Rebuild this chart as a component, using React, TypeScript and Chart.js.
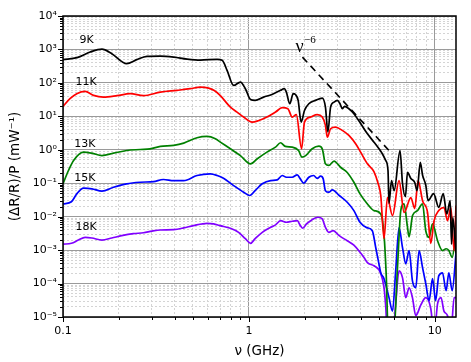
import { useEffect, useRef } from 'react';
import { Chart, registerables } from 'chart.js';

Chart.register(...registerables);

// ---------- data (frequency in GHz, (ΔR/R)/P in mW^-1) ----------
const k9Freq = [0.1, 0.119, 0.14, 0.162, 0.183, 0.22, 0.249, 0.283, 0.334, 0.394, 0.465, 0.548, 0.675, 0.718, 0.763, 0.828, 0.9, 0.957, 1.02, 1.08, 1.2, 1.33, 1.48, 1.55, 1.59, 1.66, 1.73, 1.78, 1.84, 1.91, 1.99, 2.1, 2.28, 2.48, 2.58, 2.66, 2.75, 2.87, 2.99, 3.09, 3.18, 3.27, 3.45, 3.67, 4.0, 4.34, 4.71, 5.01, 5.22, 5.44, 5.6, 5.67, 5.85, 6.04, 6.5, 6.7, 6.95, 7.13, 7.42, 7.8, 8.03, 8.35, 8.6, 8.95, 9.2, 9.85, 10.5, 11.1, 11.6, 12.1, 12.3, 12.5, 13.0];
const k9Val = [495, 567, 836, 1027, 748, 376, 495, 621, 634, 592, 516, 482, 506, 472, 237, 84, 106, 67, 32, 30, 37.6, 45, 60, 67, 53, 23.8, 47.5, 45, 30, 6.7, 15, 23.8, 30, 35, 18.8, 3.4, 18.8, 26.6, 30, 23.8, 16.9, 19.8, 16.9, 12, 6.0, 3.0, 1.69, 1.07, 0.76, 0.48, 0.24, 0.025, 0.12, 0.06, 0.95, 0.1, 0.04, 0.21, 0.14, 0.105, 0.06, 0.42, 0.17, 0.085, 0.03, 0.049, 0.019, 0.049, 0.012, 0.03, 0.0015, 0.0093, 0.00078];

const k11Freq = [0.1, 0.109, 0.1186, 0.1315, 0.146, 0.165, 0.195, 0.23, 0.271, 0.334, 0.41, 0.484, 0.548, 0.607, 0.648, 0.7, 0.795, 0.863, 0.937, 1.04, 1.13, 1.25, 1.39, 1.51, 1.62, 1.71, 1.8, 1.92, 1.99, 2.14, 2.33, 2.48, 2.58, 2.64, 2.75, 2.92, 3.18, 3.45, 3.75, 3.99, 4.34, 4.71, 4.95, 5.12, 5.33, 5.56, 5.92, 6.42, 6.84, 7.43, 7.8, 8.13, 8.59, 9.14, 9.51, 9.91, 10.5, 11.2, 11.7, 12.2, 12.7, 13.0];
const k11Val = [19.8, 33.6, 47.5, 55.7, 42.3, 37.6, 41.4, 47.5, 41.4, 53, 60, 67, 75, 70, 60, 42.3, 18.8, 13.4, 9.5, 6.7, 7.5, 9.5, 13.4, 18.1, 16.9, 9.5, 11.2, 1.07, 6.7, 9.5, 11.2, 9.5, 5.35, 2.38, 4.25, 4.75, 3.8, 2.68, 1.51, 0.85, 0.38, 0.22, 0.1, 0.043, 0.0022, 0.037, 0.0108, 0.12, 0.0133, 0.037, 0.0175, 0.12, 0.03, 0.0133, 0.0016, 0.0076, 0.0152, 0.0188, 0.0076, 0.0188, 0.00097, 0.0215];

const k13Freq = [0.1, 0.107, 0.114, 0.129, 0.143, 0.162, 0.187, 0.22, 0.26, 0.294, 0.334, 0.394, 0.446, 0.526, 0.596, 0.66, 0.702, 0.795, 0.9, 1.02, 1.11, 1.25, 1.39, 1.48, 1.57, 1.71, 1.85, 1.93, 2.02, 2.19, 2.38, 2.48, 2.58, 2.69, 2.87, 3.11, 3.38, 3.67, 3.96, 4.34, 4.71, 5.12, 5.33, 5.48, 5.62, 6.01, 6.3, 6.56, 6.83, 7.11, 7.27, 7.59, 8.07, 8.59, 8.94, 9.32, 9.72, 10.35, 11.0, 11.5, 11.9, 12.4, 13.0];
const k13Val = [0.096, 0.24, 0.48, 0.85, 0.79, 0.67, 0.79, 0.95, 1.02, 1.07, 1.26, 1.35, 1.58, 2.29, 2.5, 2.13, 1.69, 1.07, 0.67, 0.38, 0.54, 0.85, 1.2, 1.62, 1.26, 1.2, 0.95, 0.6, 0.67, 1.07, 1.28, 1.07, 0.38, 0.34, 0.46, 0.3, 0.21, 0.107, 0.048, 0.024, 0.0152, 0.0121, 0.0029, 0.00017, 0.000003, 0.000003, 0.00031, 0.0152, 0.024, 0.0054, 0.0025, 0.0108, 0.0152, 0.024, 0.0038, 0.0024, 0.0061, 0.0019, 0.00097, 0.0011, 0.00097, 0.00061, 0.0038];

const k15Freq = [0.1, 0.111, 0.1186, 0.129, 0.143, 0.162, 0.187, 0.22, 0.26, 0.307, 0.347, 0.394, 0.446, 0.526, 0.62, 0.675, 0.73, 0.828, 0.937, 1.01, 1.08, 1.18, 1.31, 1.42, 1.51, 1.59, 1.71, 1.82, 1.89, 1.97, 2.1, 2.23, 2.33, 2.43, 2.51, 2.58, 2.69, 2.81, 3.06, 3.38, 3.67, 3.96, 4.3, 4.61, 4.81, 4.99, 5.12, 5.33, 5.67, 5.92, 6.16, 6.42, 6.7, 6.98, 7.27, 7.58, 7.9, 8.23, 8.59, 8.94, 9.32, 9.72, 10.1, 10.5, 11.0, 11.5, 11.9, 12.4, 13.0];
const k15Val = [0.024, 0.028, 0.048, 0.071, 0.068, 0.058, 0.076, 0.096, 0.107, 0.112, 0.129, 0.12, 0.12, 0.17, 0.19, 0.17, 0.14, 0.085, 0.054, 0.043, 0.06, 0.096, 0.12, 0.126, 0.17, 0.151, 0.151, 0.178, 0.135, 0.1, 0.151, 0.17, 0.14, 0.162, 0.135, 0.06, 0.054, 0.063, 0.043, 0.027, 0.0152, 0.0068, 0.0047, 0.0038, 0.0012, 0.00042, 0.00021, 0.00014, 0.000038, 0.000015, 0.00024, 0.0047, 0.0012, 0.00039, 0.00097, 0.00012, 0.000075, 0.00097, 0.0003, 0.000099, 0.000031, 0.00014, 0.000031, 0.00017, 0.00021, 0.000061, 0.00021, 0.000061, 0.00079];

const k18Freq = [0.1, 0.111, 0.121, 0.1315, 0.143, 0.162, 0.183, 0.207, 0.239, 0.271, 0.301, 0.334, 0.394, 0.446, 0.503, 0.596, 0.646, 0.7, 0.795, 0.88, 0.957, 1.02, 1.08, 1.18, 1.31, 1.39, 1.48, 1.59, 1.71, 1.82, 1.89, 1.95, 2.04, 2.18, 2.35, 2.48, 2.58, 2.69, 2.84, 3.06, 3.38, 3.67, 3.96, 4.16, 4.34, 4.71, 5.12, 5.33, 5.44, 5.56, 5.94, 6.16, 6.42, 6.7, 6.98, 7.27, 7.58, 7.9, 8.41, 8.94, 9.51, 9.91, 10.35, 10.8, 11.2, 11.7, 12.2, 12.7, 13.0];
const k18Val = [0.0015, 0.0016, 0.002, 0.0024, 0.0023, 0.002, 0.0023, 0.0027, 0.0031, 0.0033, 0.0037, 0.004, 0.0041, 0.0046, 0.0054, 0.0063, 0.0061, 0.0054, 0.0045, 0.0034, 0.0022, 0.0016, 0.0022, 0.0034, 0.0048, 0.0057, 0.0076, 0.0068, 0.0073, 0.0076, 0.0054, 0.0045, 0.0061, 0.008, 0.0096, 0.0086, 0.0048, 0.0034, 0.0038, 0.0027, 0.0019, 0.0014, 0.00086, 0.0006, 0.00042, 0.00034, 0.0002, 0.000075, 0.000022, 0.000003, 0.000003, 0.000025, 0.00024, 0.00015, 0.000038, 0.000075, 0.000038, 0.000011, 0.000023, 0.000038, 0.000018, 0.000003, 0.000025, 0.000038, 0.000015, 0.000011, 0.000003, 0.000038, 0.000038];

// ν^-6 guide line
const powerFreq = [1.94, 5.9];
const powerVal = [590, 0.75];

const seriesNames = ['9K', '11K', '13K', '15K', '18K'];
const seriesColors = ['#000000', '#ff0000', '#008000', '#0000ff', '#8000ff'];
const seriesFreqs = [k9Freq, k11Freq, k13Freq, k15Freq, k18Freq];
const seriesVals = [k9Val, k11Val, k13Val, k15Val, k18Val];

// label anchor positions (data coordinates)
const labelFreq = [0.134, 0.133, 0.131, 0.131, 0.133];
const labelVal = [1870, 106, 1.51, 0.143, 0.0048];
const powerLabelFreq = 1.78;
const powerLabelVal = 836;

// axes
const xMin = 0.1;
const xMax = 13;
const xMajorVals = [0.1, 1, 10];
const xMajorLabels = ['0.1', '1', '10'];
const yExponents = [-5, -4, -3, -2, -1, 0, 1, 2, 3, 4];

const FONT = '"DejaVu Sans", Verdana, sans-serif';

const SUP: Record<string, string> = { '0': '⁰', '1': '¹', '2': '²', '3': '³', '4': '⁴', '5': '⁵', '6': '⁶', '7': '⁷', '8': '⁸', '9': '⁹', '-': '⁻' };
const sup = (n: number) => String(n).split('').map((c) => SUP[c] || c).join('');

const isMajor = (v: number) => {
  const l = Math.log10(v);
  return Math.abs(l - Math.round(l)) < 1e-6;
};

function logTickValues(minExp: number, maxExp: number, maxVal: number) {
  const out: number[] = [];
  for (let e = minExp; e <= maxExp; e++) {
    for (let k = 1; k <= 9; k++) {
      const v = parseFloat((k * Math.pow(10, e)).toPrecision(6));
      if (v <= maxVal * 1.0001) out.push(v);
    }
  }
  return out;
}

const xTickVals = logTickValues(-1, 1, xMax);
const yTickVals = logTickValues(yExponents[0], yExponents[yExponents.length - 1], Math.pow(10, yExponents[yExponents.length - 1]));

const decorPlugin = {
  id: 'decor',
  afterDatasetsDraw(chart: any) {
    const { ctx, scales } = chart;
    const x = scales.x;
    const y = scales.y;
    ctx.save();
    ctx.fillStyle = '#000';
    ctx.font = `11px ${FONT}`;
    ctx.textAlign = 'center';
    ctx.textBaseline = 'middle';
    seriesNames.forEach((n, i) => {
      ctx.fillText(n, x.getPixelForValue(labelFreq[i]), y.getPixelForValue(labelVal[i]));
    });
    // ν^-6 label
    const px = x.getPixelForValue(powerLabelFreq);
    const py = y.getPixelForValue(powerLabelVal);
    ctx.textAlign = 'left';
    ctx.textBaseline = 'alphabetic';
    ctx.font = '18px "Liberation Serif", "DejaVu Serif", serif';
    ctx.fillText('ν', px, py);
    const w = ctx.measureText('ν').width;
    ctx.font = '11px "Liberation Serif", "DejaVu Serif", serif';
    ctx.fillText('−6', px + w + 0.5, py - 9);
    ctx.restore();
  },
  afterDraw(chart: any) {
    const { ctx, chartArea, scales } = chart;
    const { left, right, top, bottom } = chartArea;
    ctx.save();
    ctx.strokeStyle = '#000';
    ctx.lineWidth = 1;
    // tick marks
    ctx.beginPath();
    xTickVals.forEach((v) => {
      const p = Math.round(scales.x.getPixelForValue(v)) + 0.5;
      const len = isMajor(v) ? 5 : 3;
      ctx.moveTo(p, bottom);
      ctx.lineTo(p, bottom + len);
    });
    yTickVals.forEach((v) => {
      const p = Math.round(scales.y.getPixelForValue(v)) + 0.5;
      const len = isMajor(v) ? 5 : 3;
      ctx.moveTo(left, p);
      ctx.lineTo(left - len, p);
    });
    ctx.stroke();
    // frame
    ctx.lineWidth = 1.5;
    ctx.strokeRect(left, top, right - left, bottom - top);
    ctx.restore();
  },
};

export default function App() {
  const ref = useRef<HTMLCanvasElement | null>(null);

  useEffect(() => {
    if (!ref.current) return;
    const datasets: any[] = seriesNames.map((name, i) => ({
      label: name,
      data: seriesFreqs[i].map((f, j) => ({ x: f, y: seriesVals[i][j] })),
      borderColor: seriesColors[i],
      backgroundColor: seriesColors[i],
      borderWidth: 1.7,
      pointRadius: 0,
      fill: false,
      cubicInterpolationMode: 'monotone',
    }));
    datasets.push({
      label: 'ν^-6',
      data: powerFreq.map((f, j) => ({ x: f, y: powerVal[j] })),
      borderColor: '#000',
      borderWidth: 1.6,
      borderDash: [7, 5],
      pointRadius: 0,
      fill: false,
    });

    const chart = new Chart(ref.current, {
      type: 'line',
      data: { datasets },
      plugins: [decorPlugin],
      options: {
        animation: false,
        responsive: false,
        devicePixelRatio: 1,
        events: [],
        layout: { padding: { top: 16, right: 15, left: 0, bottom: 0 } },
        plugins: { legend: { display: false }, tooltip: { enabled: false } },
        scales: {
          x: {
            type: 'logarithmic',
            min: xMin,
            max: xMax,
            afterBuildTicks: (scale: any) => {
              scale.ticks = xTickVals.map((v) => ({ value: v, major: isMajor(v) }));
            },
            afterFit: (scale: any) => {
              scale.height = 45;
            },
            grid: {
              drawTicks: false,
              color: (c: any) => (c.tick && isMajor(c.tick.value) ? '#9a9a9a' : '#d4d4d4'),
              lineWidth: 1,
            },
            border: {
              display: false,
              dash: (c: any) => (c.tick && !isMajor(c.tick.value) ? [2, 2] : []),
            },
            ticks: {
              autoSkip: false,
              maxRotation: 0,
              minRotation: 0,
              padding: 8,
              color: '#000',
              font: { family: FONT, size: 11 },
              callback: (v: any) => {
                const idx = xMajorVals.findIndex((m) => Math.abs(m - Number(v)) < 1e-9);
                return idx >= 0 ? xMajorLabels[idx] : '';
              },
            },
            title: {
              display: true,
              text: 'ν (GHz)',
              color: '#000',
              font: { family: FONT, size: 13.5 },
              padding: { top: 0, bottom: 2 },
            },
          },
          y: {
            type: 'logarithmic',
            min: Math.pow(10, yExponents[0]),
            max: Math.pow(10, yExponents[yExponents.length - 1]),
            afterBuildTicks: (scale: any) => {
              scale.ticks = yTickVals.map((v) => ({ value: v, major: isMajor(v) }));
            },
            afterFit: (scale: any) => {
              scale.width = 63;
            },
            grid: {
              drawTicks: false,
              color: (c: any) => (c.tick && isMajor(c.tick.value) ? '#9a9a9a' : '#d4d4d4'),
              lineWidth: 1,
            },
            border: {
              display: false,
              dash: (c: any) => (c.tick && !isMajor(c.tick.value) ? [2, 2] : []),
            },
            ticks: {
              autoSkip: false,
              padding: 6,
              color: '#000',
              font: { family: FONT, size: 11 },
              callback: (v: any) => {
                const n = Number(v);
                if (!isMajor(n)) return '';
                return '10' + sup(Math.round(Math.log10(n)));
              },
            },
            title: {
              display: true,
              text: '(ΔR/R)/P (mW⁻¹)',
              color: '#000',
              font: { family: FONT, size: 13.5 },
              padding: { top: 7, bottom: 0 },
            },
          },
        },
      } as any,
    });
    return () => chart.destroy();
  }, []);

  return (
    <div style={{ position: 'absolute', left: 0, top: 0, width: 471, height: 362, background: '#fff' }}>
      <canvas ref={ref} width={471} height={362} />
    </div>
  );
}
